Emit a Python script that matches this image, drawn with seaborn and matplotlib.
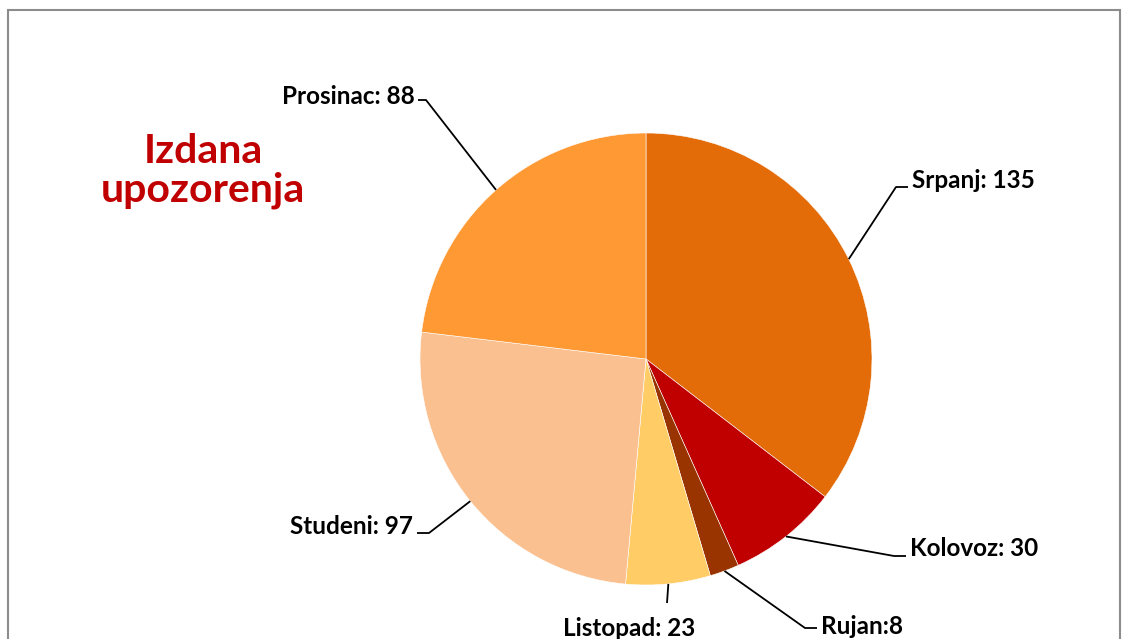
import numpy as np
import matplotlib.pyplot as plt
from matplotlib.patches import Rectangle
import seaborn as sns

# podaci
mjeseci = ['Srpanj', 'Kolovoz', 'Rujan', 'Listopad', 'Studeni', 'Prosinac']
upozorenja = [135, 30, 8, 23, 97, 88]
oznake = ['Srpanj: 135', 'Kolovoz: 30', 'Rujan:8', 'Listopad: 23', 'Studeni: 97', 'Prosinac: 88']
boje = ['#E36C09', '#C00000', '#993300', '#FFCC66', '#FAC090', '#FF9933']

sns.set_theme(style='white')
plt.rcParams['font.family'] = ['Lato', 'DejaVu Sans']

W, H = 1122, 639
cx, cy, R = 646, 359, 226  # centar i radijus pite u pikselima


def px(x, y):
    return (x - cx) / R, (cy - y) / R


fig = plt.figure(figsize=(W / 100, H / 100), dpi=100)
ax = fig.add_axes([0, 0, 1, 1])

wedges, _ = ax.pie(upozorenja, colors=sns.color_palette(boje), startangle=90,
                   counterclock=False, radius=1,
                   wedgeprops=dict(linewidth=0.4, edgecolor='white'))

ax.set_xlim(-cx / R, (W - cx) / R)
ax.set_ylim(-(H - cy) / R, cy / R)
ax.set_aspect('equal')
ax.axis('off')

# raspored oznaka: lakat, kraj vodoravne crte, tekst, poravnanje
raspored = {
    'Srpanj': ((896, 187), (908, 187), (912, 181), 'left'),
    'Kolovoz': ((894, 556), (906, 556), (910, 549), 'left'),
    'Rujan': ((805, 628), (817, 628), (821, 627), 'left'),
    'Listopad': ((667, 603), (667, 603), (629, 628), 'center'),
    'Studeni': ((429, 533), (417, 533), (413, 527), 'right'),
    'Prosinac': ((426, 100), (418, 100), (415, 96), 'right'),
}

for w, mj, txt in zip(wedges, mjeseci, oznake):
    kut = np.deg2rad((w.theta1 + w.theta2) / 2)
    x0, y0 = np.cos(kut), np.sin(kut)
    lakat, kraj, tpos, ha = raspored[mj]
    x1, y1 = px(*lakat)
    x2, y2 = px(*kraj)
    ax.plot([x0, x1, x2], [y0, y1, y2], color='black', lw=1.3,
            solid_capstyle='butt', clip_on=False)
    tx, ty = px(*tpos)
    ax.text(tx, ty, txt, ha=ha, va='center', fontsize=17.5,
            fontweight='bold', color='black', clip_on=False)

# naslov
fig.text(203 / W, 1 - 171 / H, 'Izdana\nupozorenja', ha='center', va='center',
         fontsize=29.5, fontweight='bold', color='#C00000', linespacing=1.05)

# okvir
fig.add_artist(Rectangle((8 / W, -0.1), 1112 / W, 1.1 - 10 / H,
                         transform=fig.transFigure, fill=False,
                         edgecolor='#8C8C8C', lw=1.5))

fig.savefig('out.png', dpi=100)
